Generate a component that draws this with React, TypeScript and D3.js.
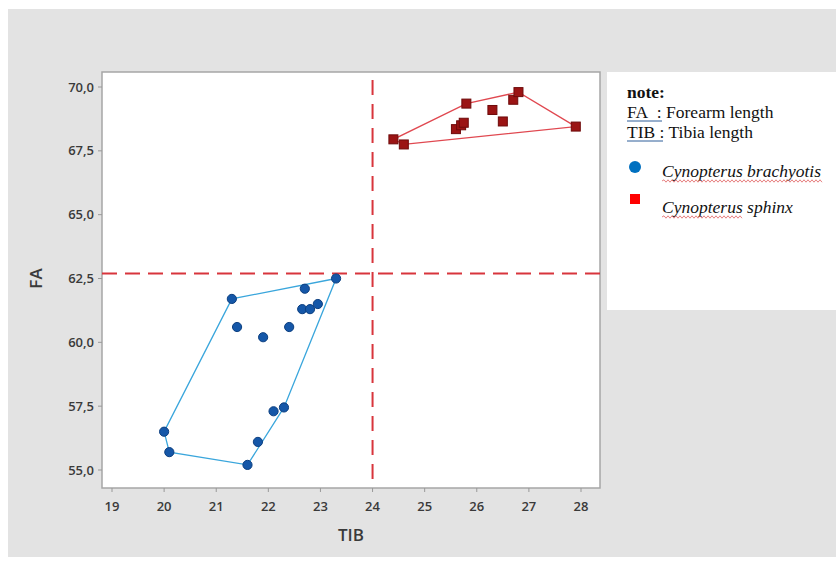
import React from 'react'
import * as d3 from 'd3'

// TIB / FA measurements per species
const brachyTIB = [20.0, 20.1, 21.6, 21.8, 22.1, 22.3, 21.3, 21.4, 21.9, 22.4, 22.7, 22.65, 22.8, 22.95, 23.3]
const brachyFA = [56.5, 55.7, 55.2, 56.1, 57.3, 57.45, 61.7, 60.6, 60.2, 60.6, 62.1, 61.3, 61.3, 61.5, 62.5]

const sphinxTIB = [24.4, 24.6, 25.6, 25.7, 25.75, 25.8, 26.3, 26.5, 26.7, 26.8, 27.9]
const sphinxFA = [67.95, 67.75, 68.35, 68.5, 68.6, 69.35, 69.1, 68.65, 69.5, 69.8, 68.45]

const xTicks = [19, 20, 21, 22, 23, 24, 25, 26, 27, 28]
const yTicks = [55, 57.5, 60, 62.5, 65, 67.5, 70]

const refTIB = 24.0
const refFA = 62.7

const W = 836
const H = 561
const frame = { left: 102, right: 600, top: 72, bottom: 488 }

const x = d3.scaleLinear().domain([19, 28]).range([112, 581])
const y = d3.scaleLinear().domain([55, 70]).range([470, 87])

const fmtY = (v: number) => d3.format('.1f')(v).replace('.', ',')

const toPts = (xs: number[], ys: number[]) => xs.map((v, i) => [x(v), y(ys[i])] as [number, number])

const wavy = (x0: number, x1: number, yy: number) => {
	let d = `M${x0},${yy}`
	let up = true
	for (let p = x0 + 2; p <= x1; p += 2) {
		d += ` L${p},${yy + (up ? -1.2 : 1.2)}`
		up = !up
	}
	return d
}

export default function App() {
	const blue = toPts(brachyTIB, brachyFA)
	const red = toPts(sphinxTIB, sphinxFA)
	const blueHull = d3.polygonHull(blue) || []
	const redHull = d3.polygonHull(red) || []
	const hullLine = d3.line().curve(d3.curveLinearClosed)

	const tickFont = { fontFamily: '"Open Sans", "DejaVu Sans", sans-serif', fontWeight: 600, fontSize: 13, fill: '#3a3a3a' }
	const serif = '"Liberation Serif", "Times New Roman", serif'

	return (
		<svg width={W} height={H} style={{ position: 'absolute', left: 0, top: 0 }}>
			<rect x={0} y={0} width={W} height={H} fill="#fff" />
			<rect x={8} y={9} width={W - 8} height={548} fill="#e3e3e3" />

			{/* plot frame */}
			<rect x={frame.left} y={frame.top} width={frame.right - frame.left} height={frame.bottom - frame.top}
				fill="#fff" stroke="#a6a6a6" strokeWidth={1.5} />

			{/* x ticks */}
			{xTicks.map(t => (
				<g key={'x' + t}>
					<line x1={x(t)} x2={x(t)} y1={frame.bottom} y2={frame.bottom + 4} stroke="#999" />
					<text x={x(t)} y={frame.bottom + 23} textAnchor="middle" {...tickFont}>{t}</text>
				</g>
			))}
			{/* y ticks */}
			{yTicks.map(t => (
				<g key={'y' + t}>
					<line x1={frame.left - 4} x2={frame.left} y1={y(t)} y2={y(t)} stroke="#999" />
					<text x={frame.left - 8} y={y(t) + 4.5} textAnchor="end" {...tickFont}>{fmtY(t)}</text>
				</g>
			))}

			<text x={351} y={541} textAnchor="middle" {...tickFont} fontSize={17}>TIB</text>
			<text transform={`translate(42,${y(62.5)}) rotate(-90)`} textAnchor="middle" {...tickFont} fontSize={17}>FA</text>

			{/* reference lines */}
			<line x1={frame.left} x2={frame.right} y1={y(refFA)} y2={y(refFA)} stroke="#d8353c" strokeWidth={2} strokeDasharray="15 8" />
			<line x1={x(refTIB)} x2={x(refTIB)} y1={frame.top + 8} y2={frame.bottom} stroke="#d8353c" strokeWidth={2} strokeDasharray="15 9" />

			{/* hulls */}
			<path d={hullLine(blueHull) || ''} fill="none" stroke="#3aa6dc" strokeWidth={1.3} />
			<path d={hullLine(redHull) || ''} fill="none" stroke="#e04850" strokeWidth={1.3} />

			{/* points */}
			{blue.map((p, i) => (
				<circle key={'b' + i} cx={p[0]} cy={p[1]} r={4.6} fill="#1557a8" stroke="#0c3f80" strokeWidth={1} />
			))}
			{red.map((p, i) => (
				<rect key={'r' + i} x={p[0] - 4.5} y={p[1] - 4.5} width={9} height={9} fill="#9b1414" stroke="#6e0a0a" strokeWidth={1} />
			))}

			{/* note box */}
			<rect x={607} y={72} width={W - 607} height={238} fill="#fff" />
			<g fontFamily={serif} fontSize={17.5} fill="#111">
				<text x={627} y={98} fontWeight="bold">note:</text>
				<text x={627} y={118}>{'FA\u00A0\u00A0: Forearm length'}</text>
				<line x1={627} x2={662} y1={121} y2={121} stroke="#2e5f9a" strokeWidth={1} />
				<text x={627} y={138}>{'TIB : Tibia length'}</text>
				<line x1={627} x2={663} y1={141} y2={141} stroke="#2e5f9a" strokeWidth={1} />
				<circle cx={635} cy={167} r={6} fill="#0070c0" />
				<text x={662} y={177} fontStyle="italic">Cynopterus brachyotis</text>
				<path d={wavy(662, 822, 181)} fill="none" stroke="#e06060" strokeWidth={0.8} />
				<rect x={630} y={194} width={10} height={10} fill="#ff0000" />
				<text x={662} y={213} fontStyle="italic">Cynopterus sphinx</text>
				<path d={wavy(662, 742, 217)} fill="none" stroke="#e06060" strokeWidth={0.8} />
			</g>
		</svg>
	)
}
